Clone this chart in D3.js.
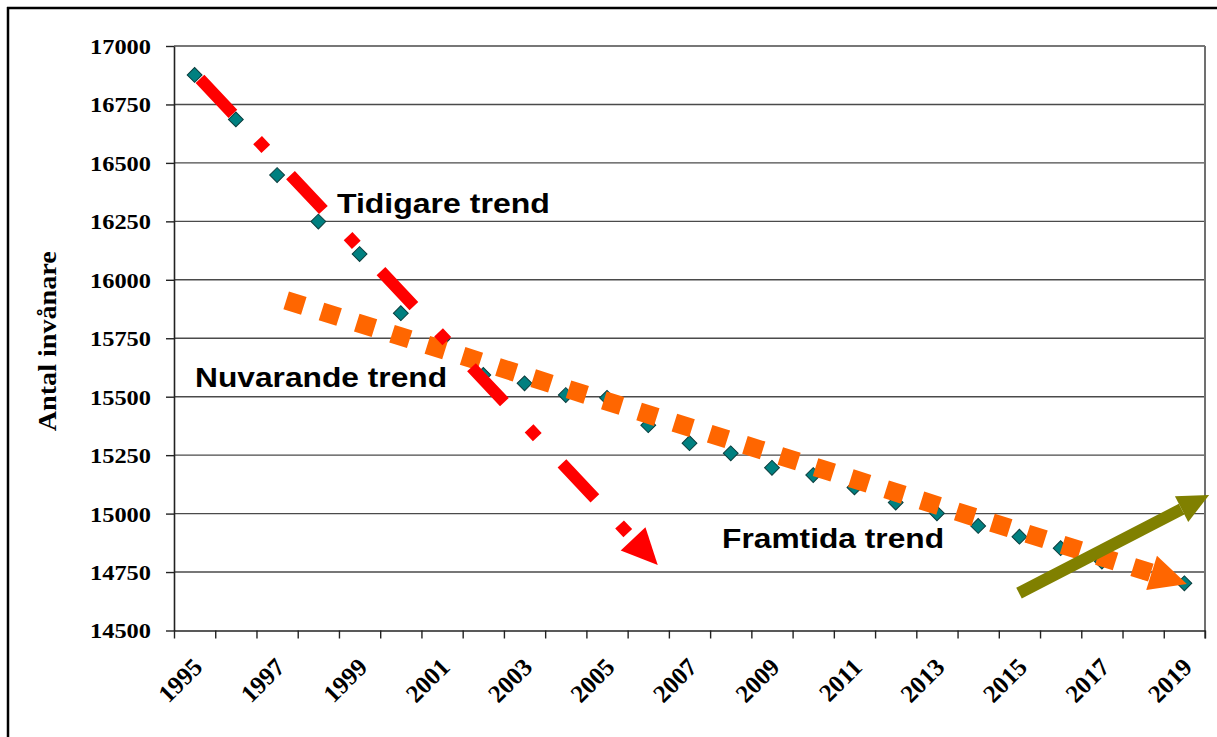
<!DOCTYPE html>
<html><head><meta charset="utf-8">
<script src="https://cdn.jsdelivr.net/npm/d3@7"></script>
<style>html,body{margin:0;padding:0;background:#fff;} svg{display:block}</style>
</head><body>
<svg id="chart" width="1217" height="737"></svg>
<script>
// ---- data ----
const years = [1995,1996,1997,1998,1999,2000,2001,2002,2003,2004,2005,2006,2007,2008,2009,2010,2011,2012,2013,2014,2015,2016,2017,2018,2019];
const population = [16876,16686,16448,16249,16110,15857,15745,15593,15557,15507,15495,15378,15301,15258,15196,15165,15112,15047,15001,14947,14901,14852,14795,14752,14702];
const yTicks = [14500,14750,15000,15250,15500,15750,16000,16250,16500,16750,17000];
const yearLabels = [1995,1997,1999,2001,2003,2005,2007,2009,2011,2013,2015,2017,2019];
const yTitle = "Antal invånare";
const trendNames = ["Tidigare trend","Nuvarande trend","Framtida trend"];
// trend arrows in data units: [year, value] start -> tip
const tidigareTrend = [[1995.13,16859],[2006.23,14780]];
const nuvarandeTrend = [[1997.22,15912],[2019.06,14699]];
const framtidaTrend = [[2014.99,14660],[2019.60,15080]];
// label anchors in data units [year, value]
const trendLabelAnchors = [[1998.45,16286],[1995.01,15542],[2007.79,14853]];

// ---- layout ----
const svg = d3.select("#chart");
const L = 174, R = 1205, T = 46, B = 630.5;
const x = d3.scaleBand().domain(years).range([L, R]).padding(0);
const xl = d3.scaleLinear().domain([years[0]-0.5, years[years.length-1]+0.5]).range([L, R]);
const y = d3.scaleLinear().domain([14500, 17000]).range([B, T]);

// outer frame (top & left visible)
svg.append("line").attr("x1",7).attr("x2",1217).attr("y1",8).attr("y2",8).attr("stroke","#000").attr("stroke-width",2.5);
svg.append("line").attr("x1",8).attr("x2",8).attr("y1",7).attr("y2",737).attr("stroke","#000").attr("stroke-width",2.5);

// gridlines
svg.append("g").selectAll("line").data(yTicks.filter(v=>v>14500)).join("line")
  .attr("x1",L).attr("x2",R).attr("y1",d=>y(d)).attr("y2",d=>y(d))
  .attr("stroke","#4a4a4a").attr("stroke-width",1.4);

// right border
svg.append("line").attr("x1",R).attr("x2",R).attr("y1",T).attr("y2",B+8).attr("stroke","#707070").attr("stroke-width",2);

// y axis
const yAx = svg.append("g").attr("transform",`translate(${L},0)`)
  .call(d3.axisLeft(y).tickValues(yTicks).tickSize(8).tickSizeOuter(0).tickPadding(15).tickFormat(d3.format("d")));
yAx.select(".domain").attr("stroke","#222").attr("stroke-width",1.6);
yAx.selectAll(".tick line").attr("stroke","#222").attr("stroke-width",1.4);
yAx.selectAll(".tick text").attr("font-family","'Liberation Serif','Times New Roman',serif")
  .attr("font-weight","bold").attr("font-size",22).attr("fill","#000")
  .attr("textLength",61).attr("lengthAdjust","spacingAndGlyphs").attr("dy","0.34em");

// x axis (ticks at category boundaries)
const boundaries = years.map(v=>v-0.5).concat([years[years.length-1]+0.5]);
const xAx = svg.append("g").attr("transform",`translate(0,${B})`)
  .call(d3.axisBottom(xl).tickValues(boundaries).tickSize(8).tickSizeOuter(0).tickFormat(""));
xAx.select(".domain").attr("stroke","#222").attr("stroke-width",1.6);
xAx.selectAll(".tick line").attr("stroke","#222").attr("stroke-width",1.4);

svg.append("g").selectAll("text").data(yearLabels).join("text")
  .attr("transform",d=>`translate(${x(d)+x.bandwidth()/2+3},${B+32}) rotate(-45)`)
  .attr("text-anchor","end").attr("dy","0.35em")
  .attr("font-family","'Liberation Serif','Times New Roman',serif")
  .attr("font-weight","bold").attr("font-size",25).attr("fill","#000")
  .text(d=>d);

// y title
svg.append("text")
  .attr("transform",`translate(55.5,${(T+B)/2+3}) rotate(-90)`)
  .attr("text-anchor","middle")
  .attr("font-family","'Liberation Serif','Times New Roman',serif")
  .attr("font-weight","bold").attr("font-size",26).attr("fill","#000")
  .attr("textLength",180).attr("lengthAdjust","spacingAndGlyphs")
  .text(yTitle);

// data markers
svg.append("g").selectAll("path").data(years).join("path")
  .attr("d", d3.symbol(d3.symbolSquare, 110)())
  .attr("transform",(d,i)=>`translate(${x(d)+x.bandwidth()/2},${y(population[i])}) rotate(45)`)
  .attr("fill","#008080").attr("stroke","#0b3d3d").attr("stroke-width",1);

// trend arrows
function arrow(pts, color, width, dash, headLen, headW){
  const p0=[xl(pts[0][0]), y(pts[0][1])], p1=[xl(pts[1][0]), y(pts[1][1])];
  const dx=p1[0]-p0[0], dy=p1[1]-p0[1], len=Math.hypot(dx,dy);
  const ux=dx/len, uy=dy/len, nx=-uy, ny=ux;
  const b=[p1[0]-ux*headLen, p1[1]-uy*headLen];
  const g=svg.append("g");
  g.append("line").attr("x1",p0[0]).attr("y1",p0[1]).attr("x2",b[0]).attr("y2",b[1])
    .attr("stroke",color).attr("stroke-width",width).attr("stroke-linecap","butt")
    .attr("stroke-dasharray",dash);
  g.append("path").attr("d",d3.line()([p1,[b[0]+nx*headW/2,b[1]+ny*headW/2],[b[0]-nx*headW/2,b[1]-ny*headW/2]])+"Z")
    .attr("fill",color);
}
arrow(nuvarandeTrend, "#FF6600", 18.5, "18.5 18.5", 37, 36);
arrow(framtidaTrend, "#808000", 12, null, 31, 29);
arrow(tidigareTrend, "#FF0000", 12, "48 36 12 36", 36, 34);

// trend labels
const labelLens = [213, 252, 222];
svg.append("g").selectAll("text").data(trendNames).join("text")
  .attr("x",(d,i)=>xl(trendLabelAnchors[i][0])).attr("y",(d,i)=>y(trendLabelAnchors[i][1]))
  .attr("font-family","'Liberation Sans',Arial,sans-serif").attr("font-weight","bold")
  .attr("font-size",28).attr("fill","#000")
  .attr("textLength",(d,i)=>labelLens[i]).attr("lengthAdjust","spacingAndGlyphs")
  .text(d=>d);
</script>
</body></html>
